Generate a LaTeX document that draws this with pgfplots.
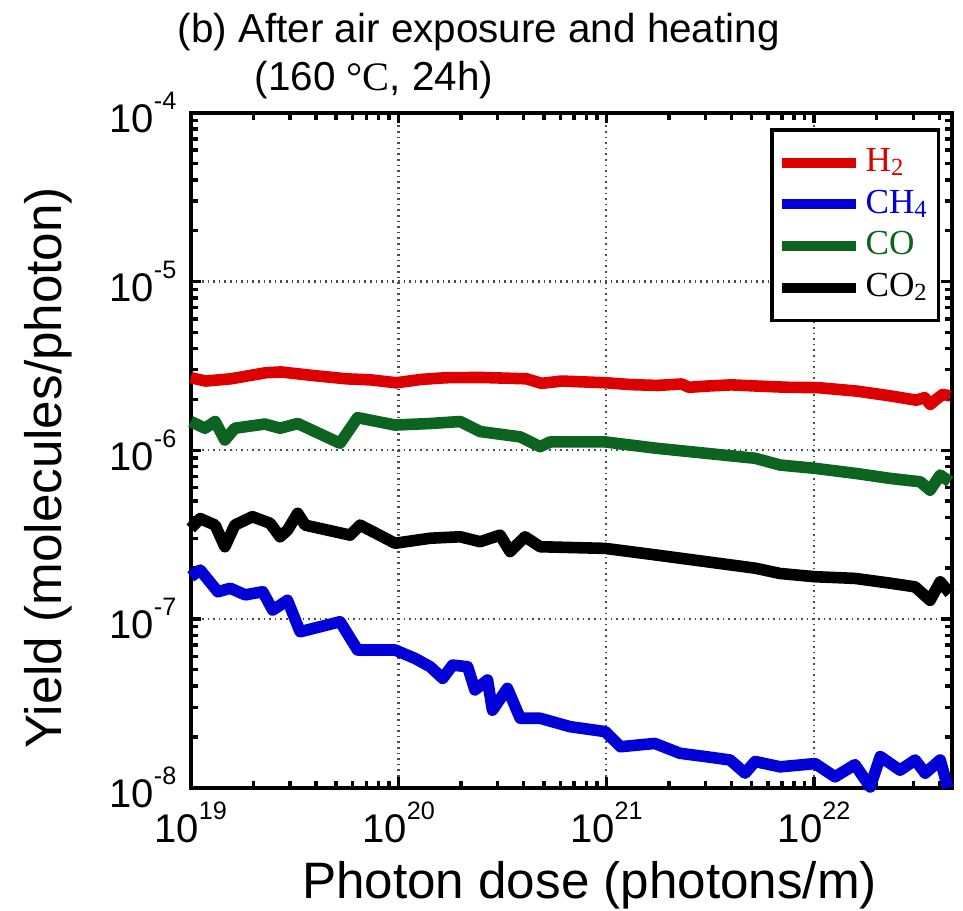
\documentclass[border=0pt]{standalone}
\usepackage{fontspec}
\setmainfont{Liberation Sans}
\newfontfamily\serif{Liberation Serif}
\usepackage{pgfplots}
\pgfplotsset{compat=1.18}
\definecolor{h2red}{RGB}{220,0,0}
\definecolor{ch4blue}{RGB}{0,0,215}
\definecolor{cogreen}{RGB}{12,100,32}
\newcommand{\E}[1]{10\raisebox{5.75pt}{\fontsize{6.3}{7}\selectfont #1}}
\begin{document}
\begin{tikzpicture}
\begin{axis}[
  at={(0,0)}, anchor=south west,
  scale only axis, width=190.25pt, height=168.75pt,
  xmode=log, ymode=log,
  xmin=1e19, xmax=4.59e22, ymin=1e-8, ymax=1e-4,
  xtick={1e19,1e20,1e21,1e22},
  xticklabels={\E{19},\E{20},\E{21},\E{22}},
  ytick={1e-8,1e-7,1e-6,1e-5,1e-4},
  yticklabels={\E{-8},\E{-7},\E{-6},\E{-5},\E{-4}},
  minor xtick={2e19,3e19,4e19,5e19,6e19,7e19,8e19,9e19,2e20,3e20,4e20,5e20,6e20,7e20,8e20,9e20,2e21,3e21,4e21,5e21,6e21,7e21,8e21,9e21,2e22,3e22,4e22},
  minor ytick={2e-8,3e-8,4e-8,5e-8,6e-8,7e-8,8e-8,9e-8,2e-7,3e-7,4e-7,5e-7,6e-7,7e-7,8e-7,9e-7,2e-6,3e-6,4e-6,5e-6,6e-6,7e-6,8e-6,9e-6,2e-5,3e-5,4e-5,5e-5,6e-5,7e-5,8e-5,9e-5},
  xmajorgrids, ymajorgrids,
  major grid style={densely dotted, gray!60!black, line width=0.55pt},
  tick align=inside, major tick length=2.6pt, minor tick length=1.7pt,
  every tick/.style={black, line width=0.85pt},
  axis line style={line width=0.9pt},
  tick label style={font=\fontsize{10}{12}\selectfont},
  xticklabel style={anchor=base, yshift=-13.8pt, inner sep=0pt},
  yticklabel style={anchor=east, xshift=-3.4pt, inner sep=0pt},
  xlabel={Photon dose (photons/m)},
  ylabel={Yield (molecules/photon)},
  label style={font=\fontsize{12.8}{15}\selectfont},
  xlabel style={at={(axis description cs:0.524,-0.1636)}, anchor=base},
  ylabel style={at={(axis description cs:-0.1695,0.474)}, anchor=base},
  clip=false,
  legend style={at={(axis description cs:0.9846,0.9769)}, anchor=north east,
    draw=black, line width=0.8pt, fill=white,
    font=\serif\fontsize{8.8}{10}\selectfont,
    inner xsep=1.2pt, inner ysep=3pt, row sep=0pt,
    nodes={inner sep=1.2pt, text height=6.2pt, text depth=1.8pt}},
  legend cell align=left,
  legend image code/.code={\draw[#1, line width=2.5pt, line cap=butt] (0pt,0pt) -- (18.5pt,0pt);},
]
\addplot[h2red, line width=2.9pt, line join=round] coordinates {
(1e19,2.69e-6) (1.18e19,2.57e-6) (1.56e19,2.65e-6) (2.3e19,2.88e-6) (2.72e19,2.91e-6)
(3.79e19,2.78e-6) (5.6e19,2.65e-6) (7.39e19,2.61e-6) (9.75e19,2.51e-6) (1.29e20,2.63e-6)
(1.7e20,2.69e-6) (2.51e20,2.70e-6) (4.13e20,2.65e-6) (4.88e20,2.49e-6) (6.09e20,2.57e-6)
(1.0e21,2.51e-6) (1.3e21,2.45e-6) (1.75e21,2.42e-6) (2.3e21,2.47e-6) (2.5e21,2.36e-6)
(3.05e21,2.40e-6) (4.0e21,2.44e-6) (5.32e21,2.40e-6) (7.5e21,2.36e-6) (1.04e22,2.35e-6)
(1.61e22,2.24e-6) (2.38e22,2.09e-6) (3.1e22,1.98e-6) (3.4e22,2.05e-6) (3.62e22,1.87e-6)
(3.9e22,2.02e-6) (4.15e22,2.14e-6) (4.5e22,2.10e-6)};
\addlegendentry{\textcolor{h2red}{H\textsubscript{2}}}
\addplot[ch4blue, line width=2.9pt, line join=round] coordinates {
(1e19,1.78e-7) (1.11e19,1.95e-7) (1.35e19,1.45e-7) (1.55e19,1.52e-7) (1.83e19,1.39e-7)
(2.22e19,1.45e-7) (2.48e19,1.13e-7) (2.92e19,1.29e-7) (3.36e19,8.4e-8) (5.23e19,9.63e-8)
(6.35e19,6.55e-8) (9.62e19,6.55e-8) (1.2e20,5.84e-8) (1.42e20,5.21e-8) (1.63e20,4.45e-8)
(1.82e20,5.33e-8) (2.15e20,5.21e-8) (2.33e20,3.8e-8) (2.68e20,4.35e-8) (2.83e20,2.88e-8)
(3.34e20,3.88e-8) (3.85e20,2.58e-8) (4.8e20,2.58e-8) (6.69e20,2.3e-8) (9.87e20,2.15e-8)
(1.17e21,1.75e-8) (1.71e21,1.83e-8) (2.26e21,1.6e-8) (2.99e21,1.53e-8) (3.94e21,1.46e-8)
(4.65e21,1.22e-8) (5.2e21,1.43e-8) (6.86e21,1.33e-8) (1.01e22,1.39e-8) (1.26e22,1.16e-8)
(1.57e22,1.37e-8) (1.86e22,1.01e-8) (2.08e22,1.53e-8) (2.59e22,1.27e-8) (3.06e22,1.46e-8)
(3.42e22,1.22e-8) (4.04e22,1.46e-8) (4.4e22,1.0e-8)};
\addlegendentry{\textcolor{ch4blue}{CH\textsubscript{4}}}
\addplot[cogreen, line width=2.9pt, line join=round] coordinates {
(1e19,1.48e-6) (1.17e19,1.35e-6) (1.31e19,1.48e-6) (1.46e19,1.15e-6) (1.63e19,1.35e-6)
(2.27e19,1.43e-6) (2.69e19,1.35e-6) (3.27e19,1.44e-6) (5.23e19,1.10e-6) (6.35e19,1.56e-6)
(9.62e19,1.41e-6) (1.42e20,1.44e-6) (1.98e20,1.48e-6) (2.47e20,1.29e-6) (3.85e20,1.20e-6)
(4.8e20,1.05e-6) (5.36e20,1.12e-6) (9.87e20,1.12e-6) (1.71e21,1.03e-6) (2.99e21,9.6e-7)
(5.2e21,8.96e-7) (6.86e21,8.17e-7) (1.01e22,7.81e-7) (1.57e22,7.30e-7) (2.32e22,6.81e-7)
(3.24e22,6.50e-7) (3.61e22,5.80e-7) (4.04e22,7.13e-7) (4.5e22,6.5e-7)};
\addlegendentry{\textcolor{cogreen}{CO}}
\addplot[black, line width=2.9pt, line join=round] coordinates {
(1e19,3.44e-7) (1.11e19,3.94e-7) (1.31e19,3.60e-7) (1.46e19,2.68e-7) (1.63e19,3.60e-7)
(1.98e19,4.04e-7) (2.41e19,3.69e-7) (2.69e19,3.07e-7) (2.92e19,3.36e-7) (3.27e19,4.23e-7)
(3.55e19,3.60e-7) (5.85e19,3.14e-7) (6.53e19,3.60e-7) (9.62e19,2.81e-7) (1.42e20,3.01e-7)
(1.98e20,3.07e-7) (2.47e20,2.87e-7) (3.08e20,3.14e-7) (3.44e20,2.51e-7) (4.06e20,3.07e-7)
(4.8e20,2.68e-7) (9.87e20,2.62e-7) (1.71e21,2.40e-7) (2.99e21,2.19e-7) (5.2e21,2.00e-7)
(6.86e21,1.86e-7) (1.01e22,1.78e-7) (1.57e22,1.74e-7) (2.32e22,1.63e-7) (3.06e22,1.55e-7)
(3.61e22,1.29e-7) (4.04e22,1.66e-7) (4.5e22,1.42e-7)};
\addlegendentry{\textcolor{black}{CO\textsubscript{2}}}
\end{axis}
\node[anchor=base west, inner sep=0pt, font=\fontsize{10.1}{12}\selectfont] at (-3.425pt,186.4pt) {(b) After air exposure and heating};
\node[anchor=base west, inner sep=0pt, font=\fontsize{10.1}{12}\selectfont] at (15.8pt,174.4pt) {(160 {\serif °C}, 24h)};
\pgfresetboundingbox
\path[use as bounding box] (-47.675pt,-30.575pt) rectangle (193.075pt,196.925pt);
\end{tikzpicture}
\end{document}
